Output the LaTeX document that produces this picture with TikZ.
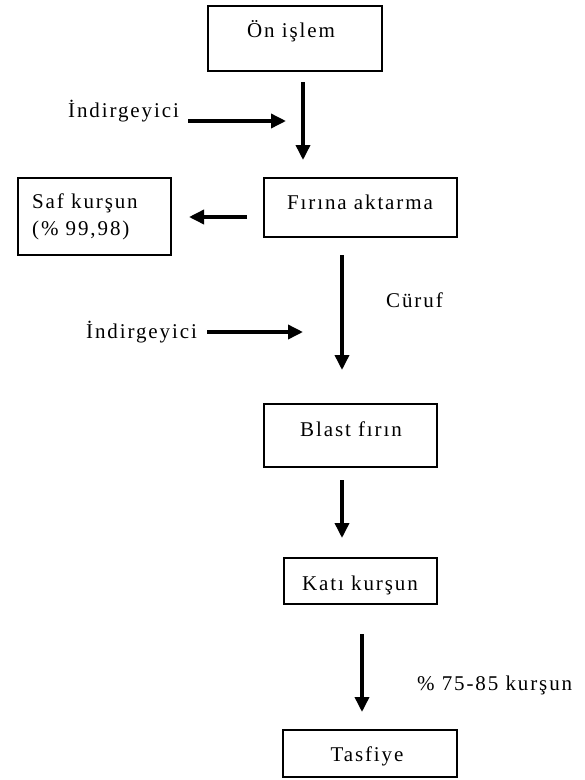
\documentclass[tikz,border=0pt]{standalone}
\usepackage{fontspec}
\setmainfont{Liberation Serif}[LetterSpace=9]
\usetikzlibrary{arrows.meta}
\tikzset{
  box/.style={draw=black, line width=2pt, rectangle, inner sep=0pt},
  lbl/.style={font=\fontsize{21}{25}\selectfont, inner sep=0pt},
  flow/.style={line width=3.5pt, -{Triangle[length=15pt,width=14pt]}},
}
\begin{document}
\begin{tikzpicture}[x=1pt,y=-1pt]
\useasboundingbox[fill=white] (0,0) rectangle (585,780);

% boxes
\node[box, minimum width=174pt, minimum height=65pt] (on)  at (295,38.5)  {};
\node[box, minimum width=153pt, minimum height=77pt] (saf) at (94.5,216.5) {};
\node[box, minimum width=193pt, minimum height=59pt] (fa)  at (360.5,207.5) {};
\node[box, minimum width=173pt, minimum height=63pt] (bf)  at (350.5,435.5) {};
\node[box, minimum width=153pt, minimum height=46pt] (kk)  at (360.5,581)   {};
\node[box, minimum width=174pt, minimum height=47pt] (tf)  at (370,753.5)   {};

% texts
\node[lbl, anchor=base] (ontxt) at (291,37) {Ön işlem};
\node[lbl, anchor=base west] (saftxt1) at (32,208) {Saf kurşun};
\node[lbl, anchor=base west] (saftxt2) at (32,235) {(\% 99,98)};
\node[lbl, anchor=base] (fatxt) at (360,209) {Fırına aktarma};
\node[lbl, anchor=base] (bftxt) at (351,436) {Blast fırın};
\node[lbl, anchor=base] (kktxt) at (360,590) {Katı kurşun};
\node[lbl, anchor=base] (tftxt) at (367,761) {Tasfiye};

\node[lbl, anchor=base west] (ind1) at (68,117) {İndirgeyici};
\node[lbl, anchor=base west] (ind2) at (86,338) {İndirgeyici};
\node[lbl, anchor=base west] (cur)  at (386,307) {Cüruf};
\node[lbl, anchor=base west] (yuz)  at (417,690) {\% 75-85 kurşun};

% arrow end points
\coordinate (a1s) at (303,82);   \coordinate (a1e) at (303,160);
\coordinate (a2s) at (188,121);  \coordinate (a2e) at (286,121);
\coordinate (a3s) at (247,217);  \coordinate (a3e) at (189,217);
\coordinate (a4s) at (342,255);  \coordinate (a4e) at (342,370);
\coordinate (a5s) at (207,332);  \coordinate (a5e) at (303,332);
\coordinate (a6s) at (342,480);  \coordinate (a6e) at (342,538);
\coordinate (a7s) at (362,634);  \coordinate (a7e) at (362,712);

\draw[flow] (a1s) -- (a1e);
\draw[flow] (a2s) -- (a2e);
\draw[flow] (a3s) -- (a3e);
\draw[flow] (a4s) -- (a4e);
\draw[flow] (a5s) -- (a5e);
\draw[flow] (a6s) -- (a6e);
\draw[flow] (a7s) -- (a7e);
\end{tikzpicture}
\end{document}
